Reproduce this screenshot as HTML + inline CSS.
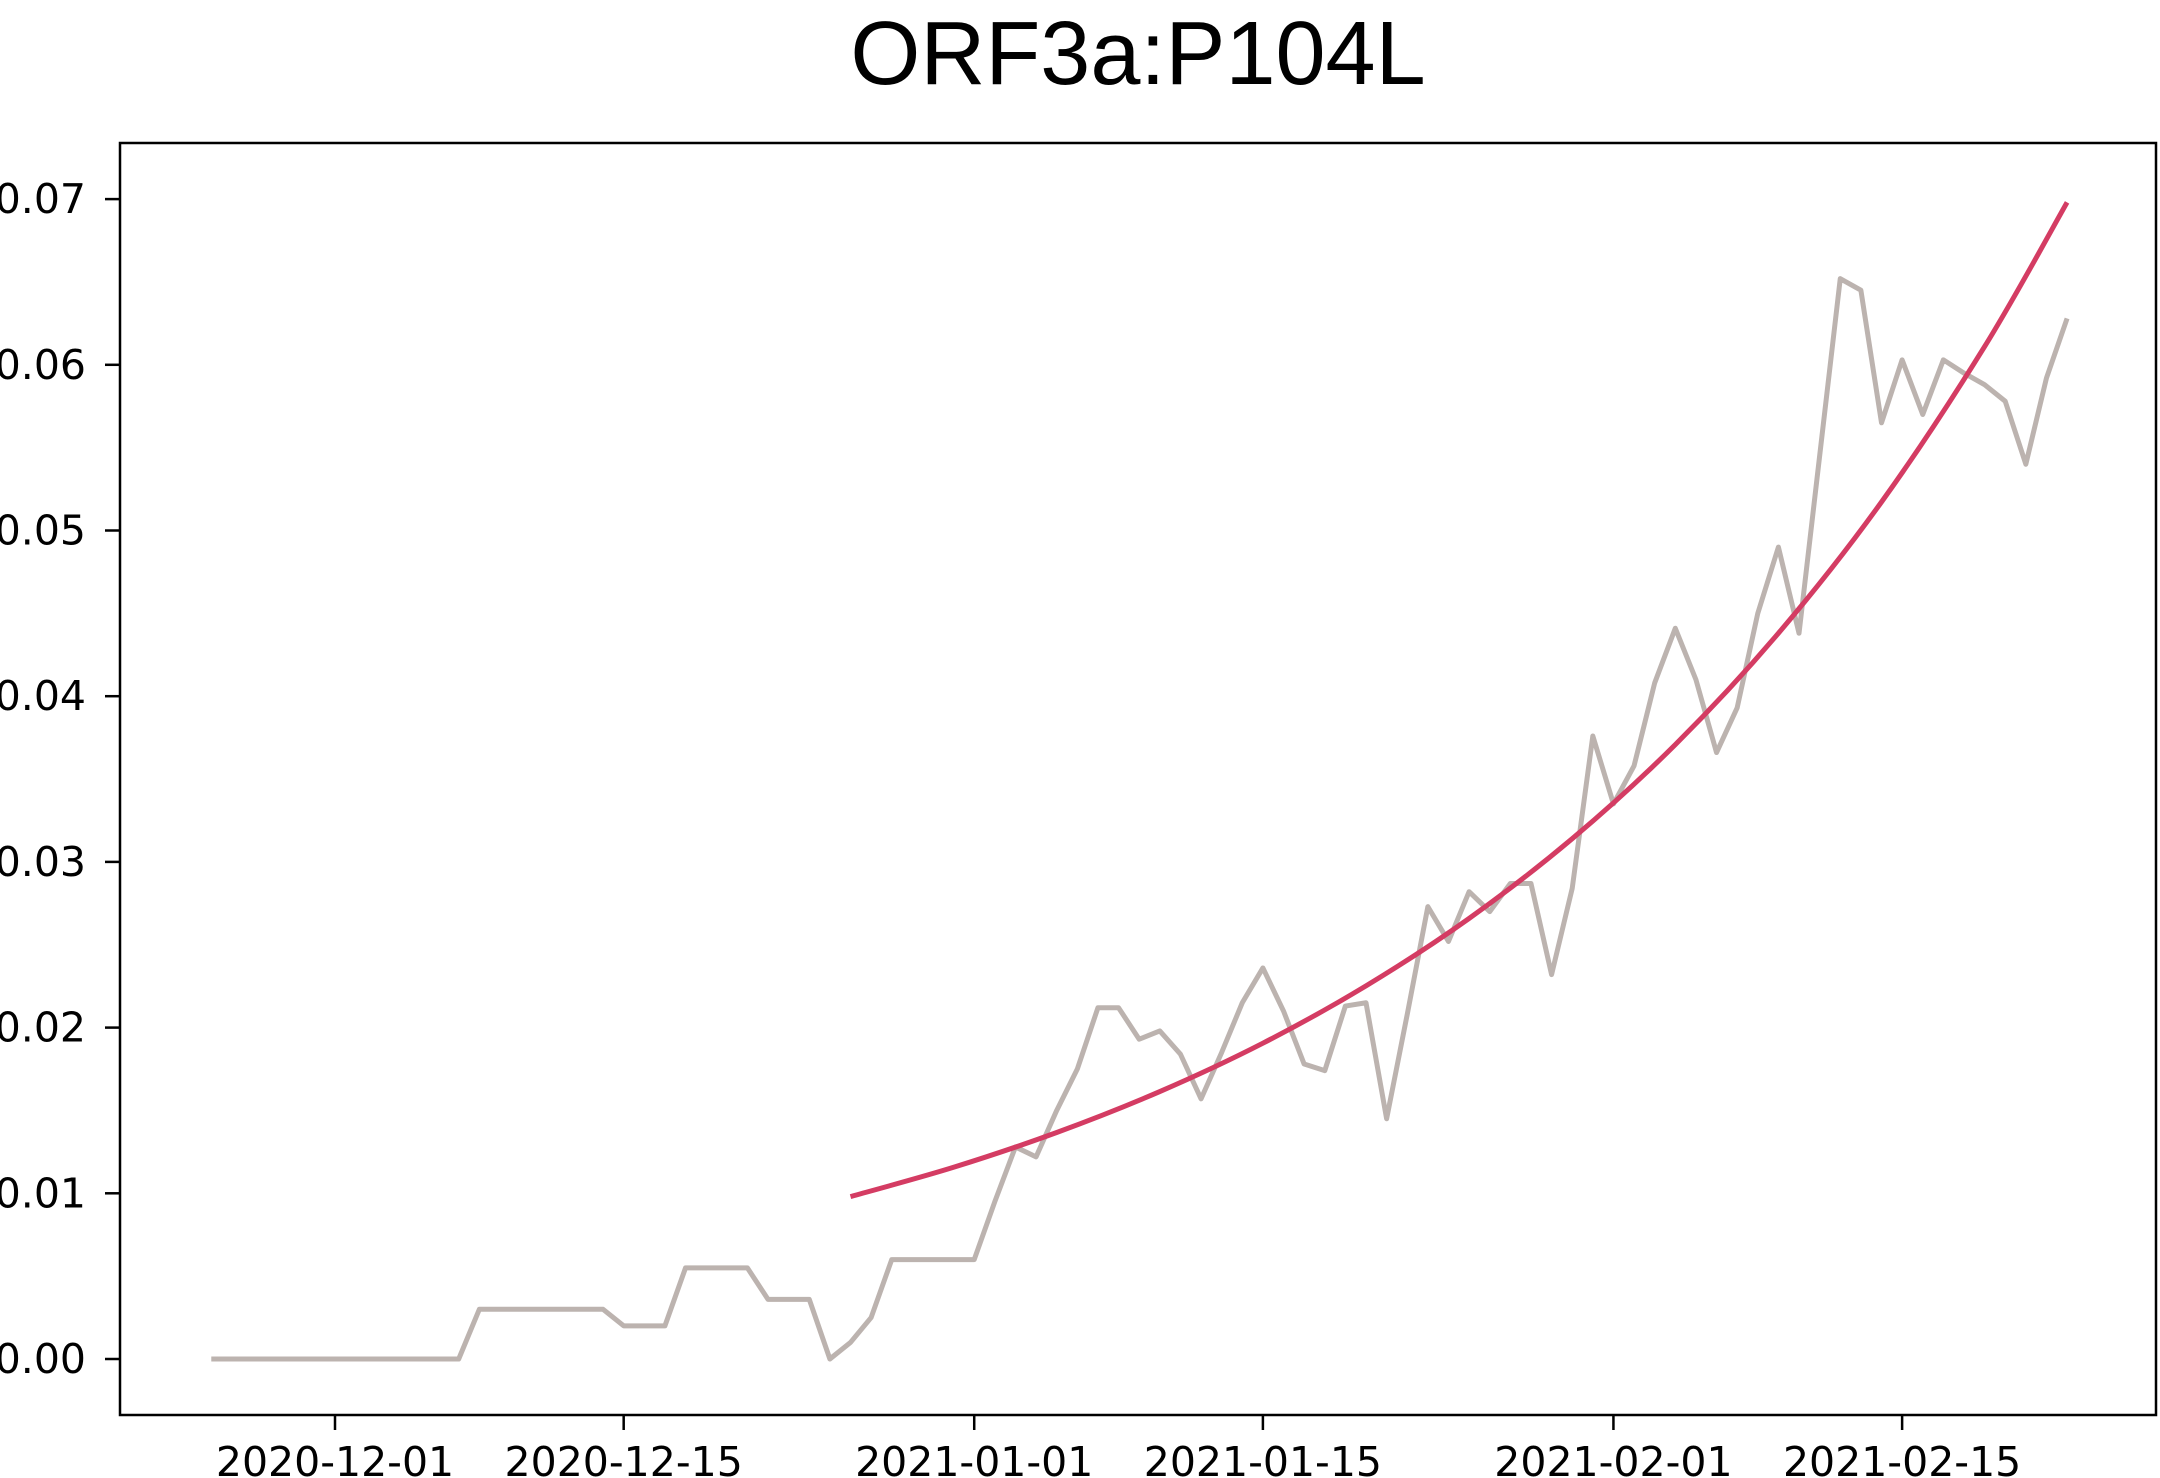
<!DOCTYPE html>
<html><head><meta charset="utf-8"><style>
html,body{margin:0;padding:0;background:#fff;width:2160px;height:1478px;overflow:hidden}
svg{display:block}
text{font-family:"DejaVu Sans","Liberation Sans",sans-serif;fill:#000}
</style></head><body>
<svg id="chart" width="2160" height="1478" viewBox="0 0 2160 1478" xmlns="http://www.w3.org/2000/svg">
<text x="1138" y="84" text-anchor="middle" style="font-family:'Liberation Sans',sans-serif;font-size:90px">ORF3a:P104L</text>
<g id="axes"></g>
<g id="marks"></g>
<rect x="120" y="143" width="2036" height="1272" fill="none" stroke="#000" stroke-width="2.5"/>
</svg>
<script>
// day offsets relative to 2020-12-01
const obsStartDay = -6;
const observed = [0,0,0,0,0,0,0,0,0,0,0,0,0,0.003,0.003,0.003,0.003,0.003,0.003,0.003,0.002,0.002,0.002,0.0055,0.0055,0.0055,0.0055,0.0036,0.0036,0.0036,0,0.001,0.0025,0.006,0.006,0.006,0.006,0.006,0.0095,0.0128,0.0122,0.015,0.0175,0.0212,0.0212,0.0193,0.0198,0.0184,0.0157,0.0185,0.0215,0.0236,0.021,0.0178,0.0174,0.0213,0.0215,0.0145,0.0208,0.0273,0.0252,0.0282,0.027,0.0287,0.0287,0.0232,0.0284,0.0376,0.0335,0.0358,0.0408,0.0441,0.041,0.0366,0.0393,0.045,0.049,0.0438,0.0545,0.0652,0.0645,0.0565,0.0603,0.057,0.0603,0.0595,0.0588,0.0578,0.054,0.0592,0.0628];
const fitDays = [25,30,35,40,45,50,55,60,65,70,75,80,84];
const fitValues = [0.0098,0.01157,0.01367,0.01614,0.01906,0.02252,0.02659,0.0314,0.03708,0.0438,0.05172,0.0611,0.0698];
const yTicks = [0,0.01,0.02,0.03,0.04,0.05,0.06,0.07];
const yTickLabels = ["0.00","0.01","0.02","0.03","0.04","0.05","0.06","0.07"];
const xTickDays = [0,14,31,45,62,76];
const xTickLabels = ["2020-12-01","2020-12-15","2021-01-01","2021-01-15","2021-02-01","2021-02-15"];

const NS="http://www.w3.org/2000/svg";
const xS = d => 335 + d*20.62;
const yS = v => 1359 - v/0.01*165.7;
const axes=document.getElementById('axes'), marks=document.getElementById('marks');
function mk(tag, attrs, parent){const e=document.createElementNS(NS,tag);for(const k in attrs)e.setAttribute(k,attrs[k]);parent.appendChild(e);return e;}

yTicks.forEach((v,i)=>{
  const t=mk('line',{x1:105,x2:120,y1:yS(v),y2:yS(v),stroke:'#000','stroke-width':2.5},axes);
  
  
  const l=mk('text',{x:86,y:yS(v)+14,'text-anchor':'end','font-size':41},axes);
  l.textContent=yTickLabels[i];
  
  
});
xTickDays.forEach((d,i)=>{
  const t=mk('line',{x1:xS(d),x2:xS(d),y1:1415,y2:1430,stroke:'#000','stroke-width':2.5},axes);
  
  
  const l=mk('text',{x:xS(d),y:1476,'text-anchor':'middle','font-size':41},axes);
  l.textContent=xTickLabels[i];
  
  
});

const obsPts = observed.map((v,i)=>[xS(obsStartDay+i), yS(v)]);
const obs=mk('polyline',{points:obsPts.map(p=>p.join(',')).join(' '),fill:'none',stroke:'#bcb3af','stroke-width':5,'stroke-linejoin':'round'},marks);



const fp = fitDays.map((d,i)=>[xS(d), yS(fitValues[i])]);
let dstr='M'+fp[0][0]+','+fp[0][1];
for(let i=0;i<fp.length-1;i++){
  const p0=fp[Math.max(i-1,0)],p1=fp[i],p2=fp[i+1],p3=fp[Math.min(i+2,fp.length-1)];
  const c1=[p1[0]+(p2[0]-p0[0])/6,p1[1]+(p2[1]-p0[1])/6];
  const c2=[p2[0]-(p3[0]-p1[0])/6,p2[1]-(p3[1]-p1[1])/6];
  dstr+=' C'+c1.join(',')+' '+c2.join(',')+' '+p2.join(',');
}
const fit=mk('path',{d:dstr,fill:'none',stroke:'#d43c63','stroke-width':5},marks);


</script>
</body></html>
